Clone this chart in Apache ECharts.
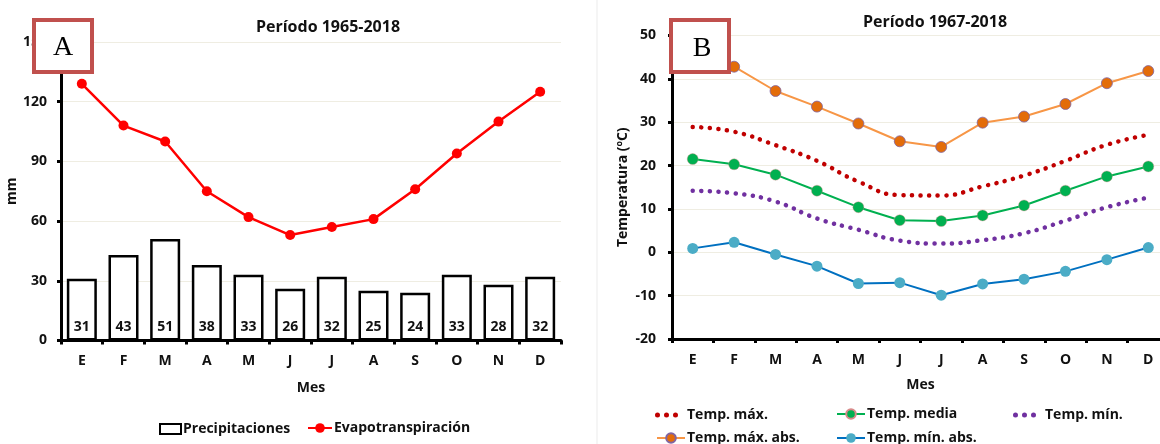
<!DOCTYPE html>
<html>
<head>
<meta charset="utf-8">
<script src="https://cdn.jsdelivr.net/npm/echarts@6/dist/echarts.min.js"></script>
<style>
html,body{margin:0;padding:0;background:#fff;overflow:hidden;width:1160px;height:444px;}
#c{width:1175px;height:444px;}
</style>
</head>
<body>
<div id="c"></div>
<script>
// ---------- data ----------
var months = ['E','F','M','A','M','J','J','A','S','O','N','D'];
var precipitaciones = [31,43,51,38,33,26,32,25,24,33,28,32];
var evapotranspiracion = [129,108,100,75,62,53,57,61,76,94,110,125];
var tempMax = [28.9,27.8,24.7,21.1,16.3,13.2,13.1,15.2,17.7,21.1,24.8,27.1];
var tempMedia = [21.5,20.3,17.9,14.2,10.4,7.4,7.2,8.5,10.8,14.2,17.5,19.8];
var tempMin = [14.2,13.6,11.7,7.8,5.2,2.7,2.0,2.8,4.4,7.3,10.4,12.6];
var tempMaxAbs = [43,42.8,37.2,33.6,29.7,25.6,24.3,29.9,31.3,34.2,39.0,41.8];
var tempMinAbs = [0.9,2.3,-0.5,-3.2,-7.2,-7.0,-9.9,-7.3,-6.2,-4.4,-1.7,1.1];
var titleA = 'Período 1965-2018';
var titleB = 'Período 1967-2018';

var FONT = '"Open Sans"';
var TXT = '#111';
var dots = 'path://M0,2.5a2.5,2.5 0 1,0 5,0a2.5,2.5 0 1,0 -5,0M9,2.5a2.5,2.5 0 1,0 5,0a2.5,2.5 0 1,0 -5,0M18,2.5a2.5,2.5 0 1,0 5,0a2.5,2.5 0 1,0 -5,0Z';

function xAx(gi, gap){
  return {
    type:'category', gridIndex:gi, data:months, boundaryGap:true,
    name:'Mes', nameLocation:'middle', nameGap:gap,
    nameTextStyle:{fontFamily:FONT,fontWeight:'bold',fontSize:14,color:TXT},
    axisLine:{onZero:false,lineStyle:{color:'#000',width:3}},
    axisTick:{show:true,length:4,lineStyle:{color:'#000',width:3}},
    axisLabel:{fontFamily:FONT,fontWeight:'bold',fontSize:14,color:TXT,margin:14},
    splitLine:{show:false}
  };
}
function yAx(gi, min, max, iv, name, gap, margin){
  return {
    type:'value', gridIndex:gi, min:min, max:max, interval:iv,
    name:name, nameLocation:'middle', nameGap:gap,
    nameTextStyle:{fontFamily:FONT,fontWeight:'bold',fontSize:14,color:TXT},
    axisLine:{show:true,onZero:false,lineStyle:{color:'#000',width:3}},
    axisTick:{show:true,length:4,lineStyle:{color:'#000',width:3}},
    axisLabel:{fontFamily:FONT,fontWeight:'bold',fontSize:14,color:TXT,margin:margin},
    splitLine:{show:true,lineStyle:{color:'#EFEDE2',width:1}}
  };
}
function lg(name, left, top, icon, iw, ih, padL){
  var o = {
    data:[{name:name, icon:icon}], left:left, top:top, itemWidth:iw, itemHeight:ih, itemGap:0,
    padding:0, selectedMode:false,
    textStyle:{fontFamily:FONT,fontWeight:'bold',fontSize:14,color:TXT,padding:[0,0,0,padL]}
  };
  if(!icon) o.data = [name];
  return o;
}

var chart = echarts.init(document.getElementById('c'), null, {renderer:'canvas'});
var option = {
  animation:false,
  backgroundColor:'#fff',
  title:[
    {text:titleA, left:328, top:19, padding:0, textAlign:'center', textStyle:{fontFamily:FONT,fontWeight:'bold',fontSize:16,color:TXT}},
    {text:titleB, left:935, top:14, padding:0, textAlign:'center', textStyle:{fontFamily:FONT,fontWeight:'bold',fontSize:16,color:TXT}}
  ],
  grid:[
    {left:61, top:42, width:500, height:298.5},
    {left:672, top:35.5, width:497, height:303.5}
  ],
  xAxis:[xAx(0,41), xAx(1,39)],
  yAxis:[yAx(0,0,150,30,'mm',35,14), yAx(1,-20,50,10,'Temperatura (ºC)',42,16)],
  legend:[
    lg('Precipitaciones',159,422,'rect',21,10,-3),
    lg('Evapotranspiración',307,421,null,24,12,-3),
    lg('Temp. máx.',655,408,dots,23,5,4),
    lg('Temp. media',836,407,null,28,12,-3),
    lg('Temp. mín.',1013,408,dots,23,5,4),
    lg('Temp. máx. abs.',656,431,null,28,12,-3),
    lg('Temp. mín. abs.',836,431,null,28,12,-3)
  ],
  series:[
    {name:'Precipitaciones', type:'bar', xAxisIndex:0, yAxisIndex:0, data:precipitaciones, barWidth:'72%',
     itemStyle:{color:'#fff',borderColor:'#000',borderWidth:2.5},
     label:{show:true,position:'insideBottom',distance:6,fontFamily:FONT,fontWeight:'bold',fontSize:14,color:TXT}},
    {name:'Evapotranspiración', type:'line', xAxisIndex:0, yAxisIndex:0, data:evapotranspiracion,
     symbol:'circle', symbolSize:10, color:'#FF0000', lineStyle:{color:'#FF0000',width:2.5}, itemStyle:{color:'#FF0000'}},
    {name:'Temp. máx.', type:'line', xAxisIndex:1, yAxisIndex:1, data:tempMax, smooth:true, symbol:'none', color:'#C00000',
     itemStyle:{color:'#C00000'}, lineStyle:{color:'#C00000',width:4.5,type:[0.1,8.5],cap:'round'}},
    {name:'Temp. media', type:'line', xAxisIndex:1, yAxisIndex:1, data:tempMedia, symbol:'circle', symbolSize:11, color:'#00B050',
     itemStyle:{color:'#00B050',borderColor:'#D88A8A',borderWidth:0.4}, lineStyle:{color:'#00B050',width:2}},
    {name:'Temp. mín.', type:'line', xAxisIndex:1, yAxisIndex:1, data:tempMin, smooth:true, symbol:'none', color:'#7030A0',
     itemStyle:{color:'#7030A0'}, lineStyle:{color:'#7030A0',width:4.5,type:[0.1,8.5],cap:'round'}},
    {name:'Temp. máx. abs.', type:'line', xAxisIndex:1, yAxisIndex:1, data:tempMaxAbs, symbol:'circle', symbolSize:11, color:'#E36C09',
     itemStyle:{color:'#E36C09',borderColor:'#8064A2',borderWidth:0.8}, lineStyle:{color:'#F79646',width:2}},
    {name:'Temp. mín. abs.', type:'line', xAxisIndex:1, yAxisIndex:1, data:tempMinAbs, symbol:'circle', symbolSize:11, color:'#4BACC6',
     itemStyle:{color:'#4BACC6',borderColor:'#4BACC6',borderWidth:0}, lineStyle:{color:'#0070C0',width:2}}
  ],
  graphic:[
    {type:'line', z:0, shape:{x1:597,y1:0,x2:597,y2:444}, style:{stroke:'#EBEBEB',lineWidth:1}},
    {type:'rect', z:100, shape:{x:34,y:20,width:58,height:52}, style:{fill:'#fff',stroke:'#C0504D',lineWidth:4}},
    {type:'text', z:101, x:63, y:48, style:{text:'A',font:'28px "Liberation Serif"',fill:'#000',align:'center',verticalAlign:'middle'}},
    {type:'rect', z:100, shape:{x:671,y:20,width:58,height:52}, style:{fill:'#fff',stroke:'#C0504D',lineWidth:4}},
    {type:'text', z:101, x:702, y:49, style:{text:'B',font:'28px "Liberation Serif"',fill:'#000',align:'center',verticalAlign:'middle'}}
  ]
};
chart.setOption(option);
</script>
</body>
</html>
